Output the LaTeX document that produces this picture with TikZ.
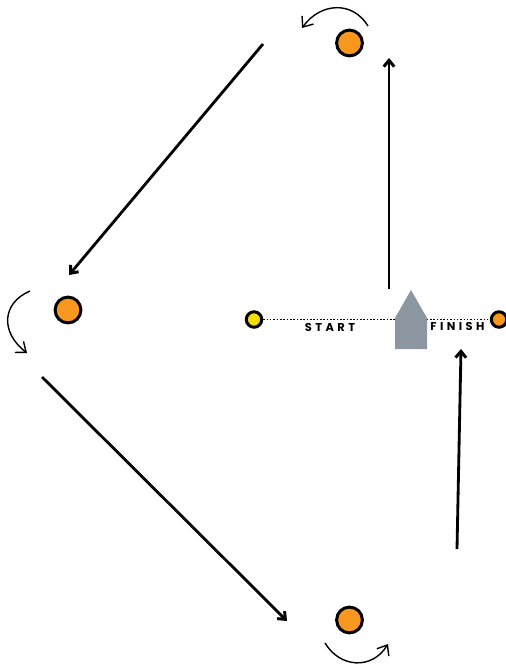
\documentclass[tikz,border=0pt]{standalone}
\usepackage{fontspec}
\usepackage{tikz}
\usetikzlibrary{arrows.meta}
\newfontfamily\markfont[LetterSpace=30]{Poppins}

\begin{document}
\begin{tikzpicture}[x=0.02cm,y=-0.02cm,
    main_node/.style={circle,draw,line width=1.7pt,inner sep=0pt,minimum size=14.7pt,fill=markorange},
    small_node/.style={circle,draw,line width=1.7pt,inner sep=0pt,minimum size=8.8pt},
    text_node/.style={inner sep=0pt,font=\markfont\bfseries\fontsize{6.5pt}{7pt}\selectfont},
    leg/.style={line width=1.6pt,-{Straight Barb[length=3.6pt,width=6pt,line width=1.7pt]}},
    turn/.style={line width=0.8pt,-{Straight Barb[length=5pt,width=8pt,line width=0.8pt]}}]
    \definecolor{markorange}{HTML}{F7971E}
    \definecolor{startyellow}{HTML}{F5DC00}
    \definecolor{boatgrey}{HTML}{8C96A0}

    \useasboundingbox (0, 0) rectangle (506, 665);

    \node[main_node] (1) at (349.5, 43) {};
    \node[main_node] (2) at (68, 310) {};
    \node[main_node] (3) at (349.5, 620) {};
    \node[small_node, fill=startyellow] (4) at (254, 319.5) {};
    \node[small_node, fill=markorange] (5) at (499, 319.5) {};
    \draw[densely dotted, line width=0.9pt] (4) -- (5);

    \fill[boatgrey] (395, 349) -- (395, 318) -- (411, 290) -- (427, 318) -- (427, 349) -- cycle;
    \node[text_node] (6) at (330, 327) {START};
    \node[text_node] (7) at (457.5, 326) {FINISH};

    \coordinate (a1) at (389, 289);
    \coordinate (a2) at (389, 58);
    \coordinate (b1) at (263, 44);
    \coordinate (b2) at (69, 275);
    \coordinate (c1) at (42, 377);
    \coordinate (c2) at (287, 621);
    \coordinate (d1) at (457, 549);
    \coordinate (d2) at (461, 349);
    \draw[leg] (a1) -- (a2);
    \draw[leg] (b1) -- (b2);
    \draw[leg] (c1) -- (c2);
    \draw[leg] (d1) -- (d2);

    \coordinate (e1) at (368, 26);
    \coordinate (e2) at (302, 28);
    \coordinate (f1) at (30, 291);
    \coordinate (f2) at (27, 353);
    \coordinate (g1) at (325, 643);
    \coordinate (g2) at (388, 644);
    \draw[turn] (e1) .. controls (352, 0) and (320, 3) .. (e2);
    \draw[turn] (f1) .. controls (2, 303) and (0, 332) .. (f2);
    \draw[turn] (g1) .. controls (340, 668) and (372, 670) .. (g2);
\end{tikzpicture}
\end{document}
